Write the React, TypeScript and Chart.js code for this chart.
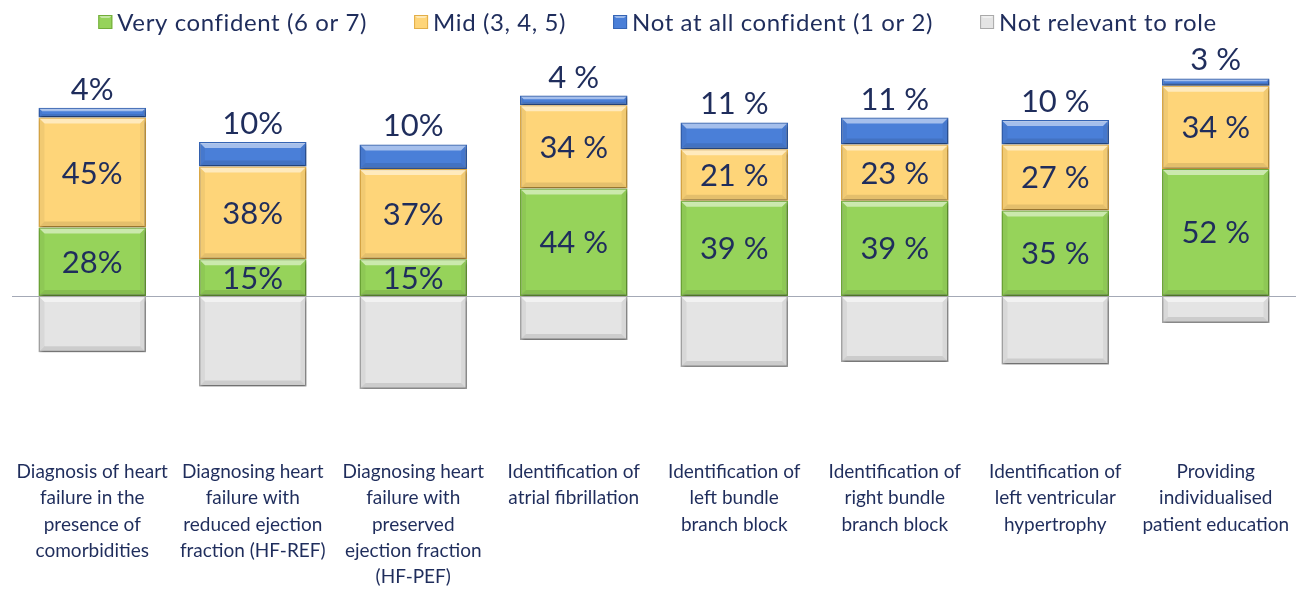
import React, { useEffect, useRef } from "react";
import { Chart, registerables } from "chart.js";

Chart.register(...registerables);

const categories: string[][] = [
  ["Diagnosis of heart", "failure in the", "presence of", "comorbidities"],
  ["Diagnosing heart", "failure with", "reduced ejection", "fraction (HF-REF)"],
  ["Diagnosing heart", "failure with", "preserved", "ejection fraction", "(HF-PEF)"],
  ["Identification of", "atrial fibrillation"],
  ["Identification of", "left bundle", "branch block"],
  ["Identification of", "right bundle", "branch block"],
  ["Identification of", "left ventricular", "hypertrophy"],
  ["Providing", "individualised", "patient education"],
];

const seriesNames = [
  "Very confident (6 or 7)",
  "Mid (3, 4, 5)",
  "Not at all confident (1 or 2)",
  "Not relevant to role",
];

const veryConfident = [28, 15, 15, 44, 39, 39, 35, 52];
const mid = [45, 38, 37, 34, 21, 23, 27, 34];
const notAtAll = [4, 10, 10, 4, 11, 11, 10, 3];
const notRelevant = [-23, -37, -38, -18, -29, -27, -28, -11];
const pctSpaced = [false, false, false, true, true, true, true, true];

const FONT = "Lato";
const TEXT = "#1f2d5c";

const fills = ["#96d35a", "#fed579", "#4a7fd8", "#e4e4e4"];
const borders = ["#72ad3a", "#e2ae48", "#3564b4", "#a9a9a9"];

const fmt = (v: number, i: number) => `${Math.abs(v)}${pctSpaced[i] ? " " : ""}%`;

const zeroLinePlugin = {
  id: "zeroLine",
  beforeDatasetsDraw(chart: any) {
    const { ctx, chartArea } = chart;
    const y = Math.round(chart.scales.y.getPixelForValue(0)) + 0.5;
    ctx.save();
    ctx.strokeStyle = "#a4a9b6";
    ctx.lineWidth = 1;
    ctx.beginPath();
    ctx.moveTo(chartArea.left, y);
    ctx.lineTo(chartArea.right, y);
    ctx.stroke();
    ctx.restore();
  },
};

const shadowPlugin = {
  id: "barShadow",
  beforeDatasetsDraw(chart: any) {
    const ctx = chart.ctx;
    ctx.save();
    ctx.shadowColor = "rgba(0,0,0,0.4)";
    ctx.shadowBlur = 3;
    ctx.shadowOffsetX = 1;
    ctx.shadowOffsetY = 2;
  },
  afterDatasetsDraw(chart: any) {
    chart.ctx.restore();
  },
};

const bevelPlugin = {
  id: "bevel",
  afterDatasetsDraw(chart: any) {
    const ctx = chart.ctx;
    ctx.save();
    chart.data.datasets.forEach((_: any, di: number) => {
      const meta = chart.getDatasetMeta(di);
      meta.data.forEach((el: any) => {
        const { x, y, base, width } = el.getProps(["x", "y", "base", "width"], true);
        const l = x - width / 2 + 1;
        const r = x + width / 2 - 1;
        const t = Math.min(y, base) + 1;
        const b = Math.max(y, base) - 1;
        const h = b - t;
        const bv = Math.min(5, h / 3);
        ctx.fillStyle = "rgba(255,255,255,0.5)";
        ctx.beginPath();
        ctx.moveTo(l, t);
        ctx.lineTo(r, t);
        ctx.lineTo(r - bv, t + bv);
        ctx.lineTo(l + bv, t + bv);
        ctx.closePath();
        ctx.fill();
        ctx.fillStyle = "rgba(0,0,0,0.10)";
        ctx.beginPath();
        ctx.moveTo(l, b);
        ctx.lineTo(r, b);
        ctx.lineTo(r - bv, b - bv);
        ctx.lineTo(l + bv, b - bv);
        ctx.closePath();
        ctx.fill();
        ctx.fillStyle = "rgba(0,0,0,0.05)";
        ctx.beginPath();
        ctx.moveTo(l, t);
        ctx.lineTo(l + bv, t + bv);
        ctx.lineTo(l + bv, b - bv);
        ctx.lineTo(l, b);
        ctx.closePath();
        ctx.fill();
        ctx.beginPath();
        ctx.moveTo(r, t);
        ctx.lineTo(r - bv, t + bv);
        ctx.lineTo(r - bv, b - bv);
        ctx.lineTo(r, b);
        ctx.closePath();
        ctx.fill();
      });
    });
    ctx.restore();
  },
};

const labelPlugin = {
  id: "valueLabels",
  afterDatasetsDraw(chart: any) {
    const ctx = chart.ctx;
    ctx.save();
    ctx.font = `31px ${FONT}`;
    ctx.fillStyle = TEXT;
    ctx.textAlign = "center";
    [0, 1].forEach((di) => {
      const meta = chart.getDatasetMeta(di);
      meta.data.forEach((el: any, i: number) => {
        const v = chart.data.datasets[di].data[i];
        const { x, y, base } = el.getProps(["x", "y", "base"], true);
        ctx.textBaseline = "middle";
        ctx.fillText(fmt(v, i), x, (y + base) / 2 + 1);
      });
    });
    const meta = chart.getDatasetMeta(2);
    meta.data.forEach((el: any, i: number) => {
      const v = chart.data.datasets[2].data[i];
      const { x, y } = el.getProps(["x", "y"], true);
      ctx.textBaseline = "alphabetic";
      ctx.fillText(fmt(v, i), x, y - 8);
    });
    ctx.restore();
  },
};

const legendPlugin = {
  id: "customLegend",
  afterDraw(chart: any) {
    const ctx = chart.ctx;
    ctx.save();
    ctx.font = `24px ${FONT}`;
    try {
      (ctx as any).letterSpacing = "0.6px";
    } catch (e) {}
    const box = 14;
    const gapBox = 5;
    const gapItem = 47;
    const items = chart.data.datasets.map((ds: any) => ({
      text: ds.label as string,
      fill: ds.backgroundColor as string,
      stroke: ds.borderColor as string,
      w: ctx.measureText(ds.label).width,
    }));
    const total =
      items.reduce((s: number, it: any) => s + box + gapBox + it.w, 0) + gapItem * (items.length - 1);
    let x = 657.5 - total / 2;
    const cy = 22;
    items.forEach((it: any) => {
      ctx.fillStyle = it.fill;
      ctx.fillRect(x, cy - box / 2, box, box);
      ctx.fillStyle = "rgba(255,255,255,0.45)";
      ctx.beginPath();
      ctx.moveTo(x, cy - box / 2);
      ctx.lineTo(x + box, cy - box / 2);
      ctx.lineTo(x + box - 3, cy - box / 2 + 3);
      ctx.lineTo(x + 3, cy - box / 2 + 3);
      ctx.closePath();
      ctx.fill();
      ctx.strokeStyle = it.stroke;
      ctx.lineWidth = 1;
      ctx.strokeRect(x + 0.5, cy - box / 2 + 0.5, box - 1, box - 1);
      ctx.fillStyle = TEXT;
      ctx.textAlign = "left";
      ctx.textBaseline = "middle";
      ctx.fillText(it.text, x + box + gapBox, cy + 1);
      x += box + gapBox + it.w + gapItem;
    });
    ctx.restore();
  },
};

export default function App() {
  const canvasRef = useRef<HTMLCanvasElement | null>(null);

  useEffect(() => {
    if (!canvasRef.current) return;
    const series = [veryConfident, mid, notAtAll, notRelevant];
    const chart = new Chart(canvasRef.current, {
      type: "bar",
      data: {
        labels: categories,
        datasets: series.map((data, k) => ({
          label: seriesNames[k],
          data,
          backgroundColor: fills[k],
          borderColor: borders[k],
          borderWidth: 1.5,
          borderSkipped: false,
          categoryPercentage: 1,
          barPercentage: 0.67,
        })),
      },
      options: {
        responsive: false,
        animation: false,
        layout: { padding: { left: 12, right: 1, top: 76, bottom: -4 } },
        plugins: {
          legend: { display: false },
          tooltip: { enabled: false },
        },
        scales: {
          x: {
            stacked: true,
            grid: { display: false, drawTicks: false },
            border: { display: false },
            ticks: {
              autoSkip: false,
              maxRotation: 0,
              minRotation: 0,
              padding: 3,
              color: TEXT,
              font: { family: FONT, size: 19, lineHeight: 1.38 },
            },
          },
          y: {
            stacked: true,
            display: false,
            min: -65.4,
            max: 90,
          },
        },
      },
      plugins: [zeroLinePlugin, shadowPlugin, bevelPlugin, labelPlugin, legendPlugin],
    });
    return () => chart.destroy();
  }, []);

  return (
    <div style={{ position: "fixed", left: 0, top: 0, width: 1297, height: 589, background: "#fff" }}>
      <canvas ref={canvasRef} width={1297} height={589} style={{ display: "block" }} />
    </div>
  );
}
